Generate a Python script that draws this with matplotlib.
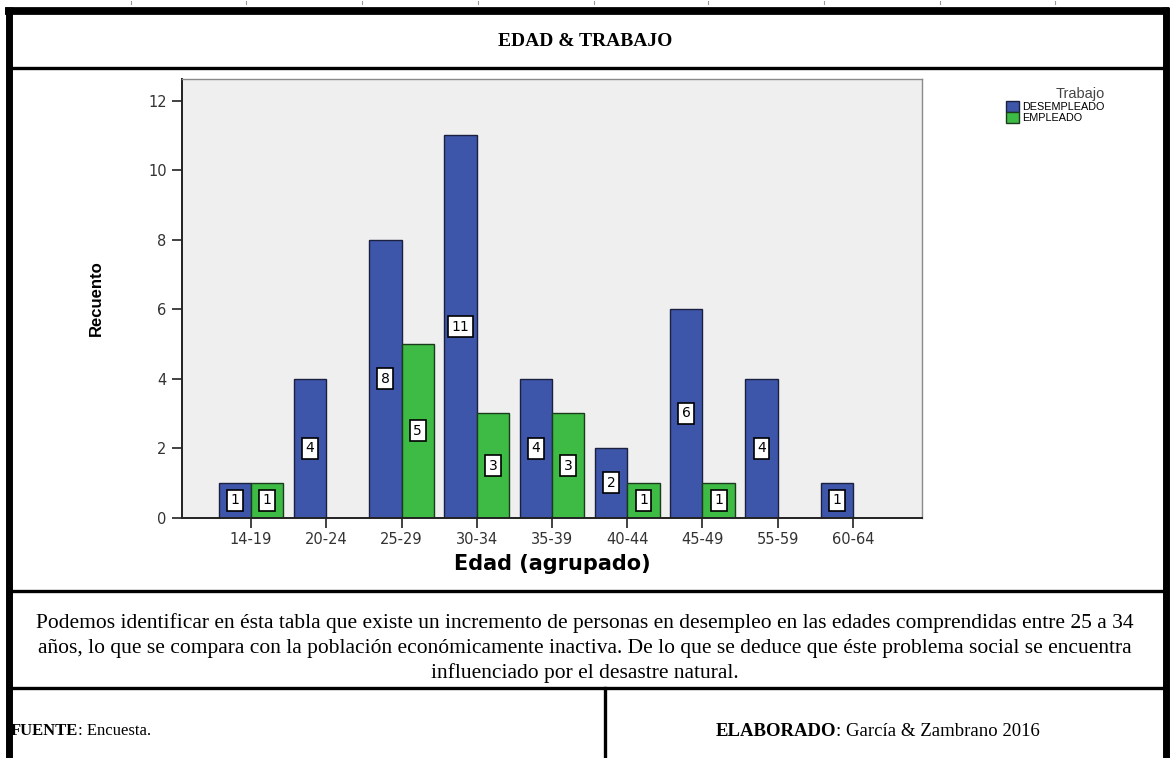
import matplotlib.pyplot as plt
from matplotlib.patches import Patch

# data
edades = ["14-19", "20-24", "25-29", "30-34", "35-39", "40-44", "45-49", "55-59", "60-64"]
desempleado = [1, 4, 8, 11, 4, 2, 6, 4, 1]
empleado = [1, 0, 5, 3, 3, 1, 1, 0, 0]
yticks = [0, 2, 4, 6, 8, 10, 12]

azul = "#3e56aa"
verde = "#3dbb45"
W, H = 1170, 758

fig = plt.figure(figsize=(W / 100, H / 100), dpi=100)

# frame / table lines, in pixel coords
fr = fig.add_axes([0, 0, 1, 1])
fr.set_xlim(0, W)
fr.set_ylim(H, 0)
fr.axis("off")
fr.plot([5, 1169], [10.5, 10.5], color="black", lw=5.6, solid_capstyle="butt")
fr.plot([8.5, 8.5], [7, H], color="black", lw=5.0, solid_capstyle="butt")
fr.plot([1165.5, 1165.5], [7, H], color="black", lw=5.0, solid_capstyle="butt")
fr.plot([9, 1164], [67.5, 67.5], color="black", lw=2.4)
fr.plot([9, 1164], [591, 591], color="black", lw=2.4)
fr.plot([9, 1164], [688, 688], color="black", lw=2.4)
fr.plot([605, 605], [688, H], color="black", lw=2.4)
for xm in [131, 246, 362, 478, 594, 708, 824, 940, 1055]:
    fr.plot([xm, xm], [1, 4], color="#999999", lw=0.8)

serif = "Liberation Serif"
fr.text(585, 41, "EDAD & TRABAJO", ha="center", va="center", fontsize=14,
        fontweight="bold", family=serif)
parrafo = ["Podemos identificar en ésta tabla que existe un incremento de personas en desempleo en las edades comprendidas entre 25 a 34",
           "años, lo que se compara con la población económicamente inactiva. De lo que se deduce que éste problema social se encuentra",
           "influenciado por el desastre natural."]
for i, linea in enumerate(parrafo):
    fr.text(585, 623 + 25 * i, linea, ha="center", va="center", fontsize=15.5, family=serif)

t1 = fr.text(11, 731, "FUENTE", ha="left", va="center", fontsize=12,
             fontweight="bold", family=serif)
fr.annotate(": Encuesta.", xy=(1, 0.5), xycoords=t1, va="center", ha="left",
            fontsize=12, family=serif)
t2 = fr.text(716, 731, "ELABORADO", ha="left", va="center", fontsize=13.5,
             fontweight="bold", family=serif)
fr.annotate(": García & Zambrano 2016", xy=(1, 0.5), xycoords=t2, va="center",
            ha="left", fontsize=13.5, family=serif)

# chart
ax = fig.add_axes([182 / W, 1 - 517.7 / H, 740 / W, (517.7 - 79) / H])
ax.set_facecolor("#efefef")
x = list(range(len(edades)))
bw = 0.43
ax.bar([i - bw / 2 for i in x], desempleado, width=bw, color=azul,
       edgecolor="#1b2040", linewidth=1.0, zorder=2)
ax.bar([i + bw / 2 for i in x], empleado, width=bw, color=verde,
       edgecolor="#1c3a1c", linewidth=1.0, zorder=2)

caja = dict(boxstyle="square,pad=0.25", facecolor="white", edgecolor="black", linewidth=1.2)
for xs, vals in [([i - bw / 2 for i in x], desempleado), ([i + bw / 2 for i in x], empleado)]:
    for xi, v in zip(xs, vals):
        if v > 0:
            ax.text(xi, v / 2, str(v), ha="center", va="center", fontsize=10,
                    family="DejaVu Sans", bbox=caja, zorder=3)

ax.set_xlim(-0.917, 8.917)
ax.set_ylim(0, 12.62)
ax.set_xticks(x)
ax.set_xticklabels(edades, fontsize=10.5, color="#333333")
ax.set_yticks(yticks)
ax.set_yticklabels([str(t) for t in yticks], fontsize=10.5, color="#333333")
ax.tick_params(axis="both", direction="out", length=7, width=1.2, color="#222222")
ax.tick_params(axis="x", pad=3)
ax.tick_params(axis="y", pad=4)
for s in ["left", "bottom"]:
    ax.spines[s].set_color("#222222")
    ax.spines[s].set_linewidth(1.4)
for s in ["top", "right"]:
    ax.spines[s].set_color("#8a8a8a")
    ax.spines[s].set_linewidth(1.0)

ax.set_xlabel("Edad (agrupado)", fontsize=15, fontweight="bold", family="DejaVu Sans", labelpad=5)
ax.set_ylabel("Recuento", fontsize=12, fontweight="bold", family="Liberation Sans", labelpad=32)

handles = [Patch(facecolor=azul, edgecolor="#1b2040", label="DESEMPLEADO"),
           Patch(facecolor=verde, edgecolor="#1c3a1c", label="EMPLEADO")]
leg = fig.legend(handles=handles, title="Trabajo", loc="upper left",
                 bbox_to_anchor=(1001 / W, 1 - 82 / H), frameon=False,
                 prop={"family": "Liberation Sans", "size": 7.8},
                 title_fontproperties={"family": "Liberation Sans", "size": 10.5},
                 handlelength=1.2, handleheight=1.1,
                 handletextpad=0.25, labelspacing=0.0, borderpad=0, alignment="right")
leg.get_title().set_color("#444444")

fig.savefig("out.png", dpi=100)
